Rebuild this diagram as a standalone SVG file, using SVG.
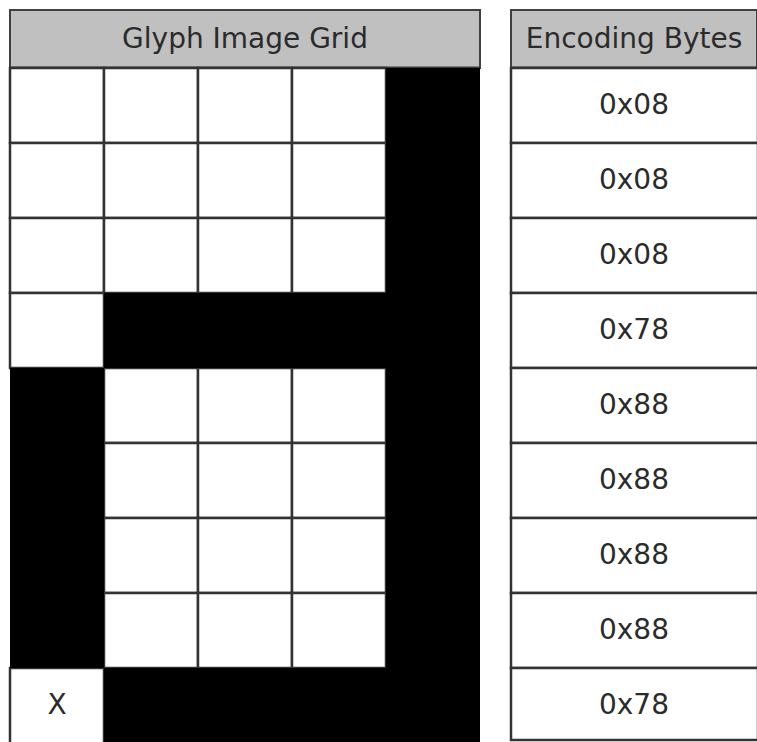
<svg xmlns="http://www.w3.org/2000/svg" width="757" height="742" viewBox="0 0 757 742">
<style>
.hdr{fill:#c0c0c0;stroke:#404040;stroke-width:2}
.w{fill:#ffffff;stroke:#333333;stroke-width:2.5}
.b{fill:#000000;stroke:#000000;stroke-width:2}
.t{font-family:"DejaVu Sans","Verdana",sans-serif;font-size:28px;fill:#2b2b2b;text-anchor:middle}
.sep{stroke:#383838;stroke-width:3}
</style>
<rect width="757" height="742" fill="#ffffff"/>
<g id="glyph-grid">
  <g id="grid-header">
    <rect class="hdr" x="10" y="10" width="470" height="58"/>
    <line class="sep" x1="10" y1="68" x2="480" y2="68"/>
    <text class="t" x="245" y="48">Glyph Image Grid</text>
  </g>
  <g id="row1">
    <rect class="w" x="10" y="68" width="94" height="75"/>
    <rect class="w" x="104" y="68" width="94" height="75"/>
    <rect class="w" x="198" y="68" width="94" height="75"/>
    <rect class="w" x="292" y="68" width="94" height="75"/>
  </g>
  <g id="row2">
    <rect class="w" x="10" y="143" width="94" height="75"/>
    <rect class="w" x="104" y="143" width="94" height="75"/>
    <rect class="w" x="198" y="143" width="94" height="75"/>
    <rect class="w" x="292" y="143" width="94" height="75"/>
  </g>
  <g id="row3">
    <rect class="w" x="10" y="218" width="94" height="75"/>
    <rect class="w" x="104" y="218" width="94" height="75"/>
    <rect class="w" x="198" y="218" width="94" height="75"/>
    <rect class="w" x="292" y="218" width="94" height="75"/>
  </g>
  <g id="row4">
    <rect class="w" x="10" y="293" width="94" height="75"/>
  </g>
  <g id="row5">
    <rect class="w" x="104" y="368" width="94" height="75"/>
    <rect class="w" x="198" y="368" width="94" height="75"/>
    <rect class="w" x="292" y="368" width="94" height="75"/>
  </g>
  <g id="row6">
    <rect class="w" x="104" y="443" width="94" height="75"/>
    <rect class="w" x="198" y="443" width="94" height="75"/>
    <rect class="w" x="292" y="443" width="94" height="75"/>
  </g>
  <g id="row7">
    <rect class="w" x="104" y="518" width="94" height="75"/>
    <rect class="w" x="198" y="518" width="94" height="75"/>
    <rect class="w" x="292" y="518" width="94" height="75"/>
  </g>
  <g id="row8">
    <rect class="w" x="104" y="593" width="94" height="75"/>
    <rect class="w" x="198" y="593" width="94" height="75"/>
    <rect class="w" x="292" y="593" width="94" height="75"/>
  </g>
  <g id="row9">
    <rect class="w" x="10" y="668" width="94" height="76"/>
    <text class="t" x="57" y="714">X</text>
  </g>
  <g id="black-pixels">
    <rect class="b" x="387" y="69" width="92" height="674"/>
    <rect class="b" x="105" y="294" width="282" height="73"/>
    <rect class="b" x="11" y="369" width="92" height="298"/>
    <rect class="b" x="105" y="669" width="282" height="74"/>
  </g>
</g>
<g id="encoding-bytes">
  <g id="bytes-header">
    <rect class="hdr" x="511" y="10" width="246" height="58"/>
    <line class="sep" x1="511" y1="68" x2="757" y2="68"/>
    <text class="t" x="634" y="48">Encoding Bytes</text>
  </g>
  <g id="byte1"><rect class="w" x="511" y="68" width="247" height="75"/><text class="t" x="634" y="114">0x08</text></g>
  <g id="byte2"><rect class="w" x="511" y="143" width="247" height="75"/><text class="t" x="634" y="189">0x08</text></g>
  <g id="byte3"><rect class="w" x="511" y="218" width="247" height="75"/><text class="t" x="634" y="264">0x08</text></g>
  <g id="byte4"><rect class="w" x="511" y="293" width="247" height="75"/><text class="t" x="634" y="339">0x78</text></g>
  <g id="byte5"><rect class="w" x="511" y="368" width="247" height="75"/><text class="t" x="634" y="414">0x88</text></g>
  <g id="byte6"><rect class="w" x="511" y="443" width="247" height="75"/><text class="t" x="634" y="489">0x88</text></g>
  <g id="byte7"><rect class="w" x="511" y="518" width="247" height="75"/><text class="t" x="634" y="564">0x88</text></g>
  <g id="byte8"><rect class="w" x="511" y="593" width="247" height="75"/><text class="t" x="634" y="639">0x88</text></g>
  <g id="byte9"><rect class="w" x="511" y="668" width="247" height="72"/><text class="t" x="634" y="714">0x78</text></g>
</g>
</svg>
